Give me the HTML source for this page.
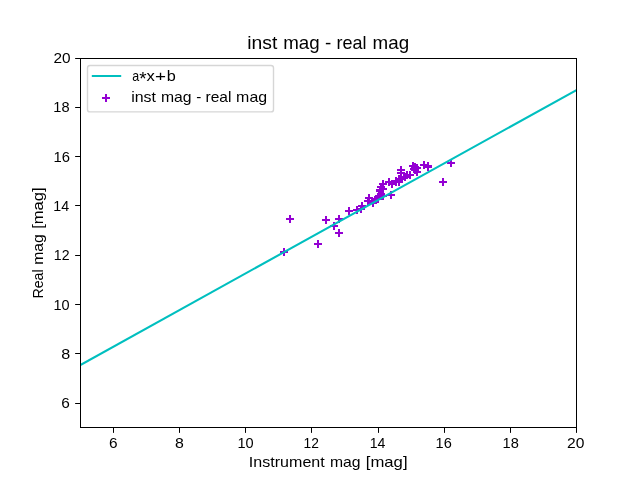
<!DOCTYPE html>
<html><head><meta charset="utf-8"><title>inst mag - real mag</title>
<style>
html,body{margin:0;padding:0;background:#fff;}
body{width:640px;height:480px;overflow:hidden;}
svg{display:block;will-change:transform;filter:opacity(1);}
text{font-family:"Liberation Sans",sans-serif;fill:#000;}
</style></head><body>
<svg width="640" height="480" viewBox="0 0 640 480">
<rect x="0" y="0" width="640" height="480" fill="#ffffff"/>
<defs><clipPath id="ax"><rect x="80" y="58" width="497" height="370"/></clipPath></defs>

<g fill="#9400d3" shape-rendering="crispEdges">
<path d="M280 251h8v2h-8zM283 248h2v8h-2z"/>
<path d="M286 218h8v2h-8zM289 215h2v8h-2z"/>
<path d="M314 243h8v2h-8zM317 240h2v8h-2z"/>
<path d="M322 219h8v2h-8zM325 216h2v8h-2z"/>
<path d="M330 225h8v2h-8zM333 222h2v8h-2z"/>
<path d="M335 218h8v2h-8zM338 215h2v8h-2z"/>
<path d="M335 232h8v2h-8zM338 229h2v8h-2z"/>
<path d="M345 210h8v2h-8zM348 207h2v8h-2z"/>
<path d="M353 209h8v2h-8zM356 206h2v8h-2z"/>
<path d="M357 208h8v2h-8zM360 205h2v8h-2z"/>
<path d="M358 205h8v2h-8zM361 202h2v8h-2z"/>
<path d="M365 197h8v2h-8zM368 194h2v8h-2z"/>
<path d="M364 200h8v2h-8zM367 197h2v8h-2z"/>
<path d="M369 202h8v2h-8zM372 199h2v8h-2z"/>
<path d="M371 199h8v2h-8zM374 196h2v8h-2z"/>
<path d="M377 186h8v2h-8zM380 183h2v8h-2z"/>
<path d="M379 183h8v2h-8zM382 180h2v8h-2z"/>
<path d="M379 188h8v2h-8zM382 185h2v8h-2z"/>
<path d="M376 189h8v2h-8zM379 186h2v8h-2z"/>
<path d="M376 190h8v2h-8zM379 187h2v8h-2z"/>
<path d="M385 181h8v2h-8zM388 178h2v8h-2z"/>
<path d="M388 183h8v2h-8zM391 180h2v8h-2z"/>
<path d="M392 180h8v2h-8zM395 177h2v8h-2z"/>
<path d="M395 178h8v2h-8zM398 175h2v8h-2z"/>
<path d="M395 180h8v2h-8zM398 177h2v8h-2z"/>
<path d="M387 194h8v2h-8zM390 191h2v8h-2z"/>
<path d="M397 169h8v2h-8zM400 166h2v8h-2z"/>
<path d="M397 172h8v2h-8zM400 169h2v8h-2z"/>
<path d="M403 174h8v2h-8zM406 171h2v8h-2z"/>
<path d="M406 174h8v2h-8zM409 171h2v8h-2z"/>
<path d="M401 176h8v2h-8zM404 173h2v8h-2z"/>
<path d="M409 165h8v2h-8zM412 162h2v8h-2z"/>
<path d="M410 168h8v2h-8zM413 165h2v8h-2z"/>
<path d="M411 166h8v2h-8zM414 163h2v8h-2z"/>
<path d="M413 167h8v2h-8zM416 164h2v8h-2z"/>
<path d="M413 171h8v2h-8zM416 168h2v8h-2z"/>
<path d="M420 164h8v2h-8zM423 161h2v8h-2z"/>
<path d="M424 165h8v2h-8zM427 162h2v8h-2z"/>
<path d="M447 162h8v2h-8zM450 159h2v8h-2z"/>
<path d="M439 181h8v2h-8zM442 178h2v8h-2z"/>
<path d="M374 198h8v2h-8zM377 195h2v8h-2z"/>
<path d="M375 195h8v2h-8zM378 192h2v8h-2z"/>
<path d="M377 193h8v2h-8zM380 190h2v8h-2z"/>
<path d="M379 195h8v2h-8zM382 192h2v8h-2z"/>
<path d="M372 198h8v2h-8zM375 195h2v8h-2z"/>
<path d="M392 181h8v2h-8zM395 178h2v8h-2z"/>
<path d="M395 181h8v2h-8zM398 178h2v8h-2z"/>
<path d="M396 178h8v2h-8zM399 175h2v8h-2z"/>
<path d="M411 169h8v2h-8zM414 166h2v8h-2z"/>
<path d="M424 166h8v2h-8zM427 163h2v8h-2z"/>
</g>
<g clip-path="url(#ax)"><line x1="80" y1="365.20" x2="576" y2="90.30" stroke="#00bfbf" stroke-width="2.08" stroke-linecap="square"/></g>
<g fill="#000" shape-rendering="crispEdges">
<rect x="80" y="58" width="497" height="1"/>
<rect x="80" y="427" width="497" height="1"/>
<rect x="80" y="58" width="1" height="370"/>
<rect x="576" y="58" width="1" height="370"/>
</g><g fill="#000">
<rect x="113" y="428" width="1" height="4.86"/>
<rect x="179" y="428" width="1" height="4.86"/>
<rect x="245" y="428" width="1" height="4.86"/>
<rect x="311" y="428" width="1" height="4.86"/>
<rect x="378" y="428" width="1" height="4.86"/>
<rect x="444" y="428" width="1" height="4.86"/>
<rect x="510" y="428" width="1" height="4.86"/>
<rect x="576" y="428" width="1" height="4.86"/>
<rect x="75.14" y="58" width="4.86" height="1"/>
<rect x="75.14" y="107" width="4.86" height="1"/>
<rect x="75.14" y="156" width="4.86" height="1"/>
<rect x="75.14" y="205" width="4.86" height="1"/>
<rect x="75.14" y="255" width="4.86" height="1"/>
<rect x="75.14" y="304" width="4.86" height="1"/>
<rect x="75.14" y="353" width="4.86" height="1"/>
<rect x="75.14" y="403" width="4.86" height="1"/>
</g>
<rect x="87.5" y="65.5" width="186" height="46.4" rx="2.5" ry="2.5" fill="#ffffff" fill-opacity="0.8" stroke="#cccccc" stroke-opacity="0.8" stroke-width="1.39"/>
<rect x="91.8" y="75" width="29.4" height="2" fill="#00bfbf"/>
<path fill="#9400d3" shape-rendering="crispEdges" d="M102 97h8v2h-8zM105 94h2v8h-2z"/>
<text x="247.28" y="48.80" font-size="18.40" textLength="30.11" lengthAdjust="spacingAndGlyphs">inst</text>
<text x="283.18" y="48.80" font-size="18.40" textLength="36.46" lengthAdjust="spacingAndGlyphs">mag</text>
<text x="324.90" y="48.80" font-size="18.40" textLength="6.28" lengthAdjust="spacingAndGlyphs">-</text>
<text x="336.47" y="48.80" font-size="18.40" textLength="30.00" lengthAdjust="spacingAndGlyphs">real</text>
<text x="372.64" y="48.80" font-size="18.40" textLength="36.52" lengthAdjust="spacingAndGlyphs">mag</text>
<text x="132.37" y="80.80" font-size="14.40" textLength="6.94" lengthAdjust="spacingAndGlyphs">a</text>
<text x="146.43" y="80.80" font-size="14.40" textLength="8.32" lengthAdjust="spacingAndGlyphs">x</text>
<text x="155.08" y="80.80" font-size="14.40" textLength="11.04" lengthAdjust="spacingAndGlyphs">+</text>
<text x="166.70" y="80.80" font-size="14.40" textLength="9.05" lengthAdjust="spacingAndGlyphs">b</text>
<text x="139.18" y="85.00" font-size="18.00" textLength="7.31" lengthAdjust="spacingAndGlyphs">*</text>
<text x="131.17" y="102.20" font-size="14.40" textLength="24.80" lengthAdjust="spacingAndGlyphs">inst</text>
<text x="161.01" y="102.20" font-size="14.40" textLength="30.62" lengthAdjust="spacingAndGlyphs">mag</text>
<text x="196.26" y="102.20" font-size="14.40" textLength="5.07" lengthAdjust="spacingAndGlyphs">-</text>
<text x="205.46" y="102.20" font-size="14.40" textLength="25.93" lengthAdjust="spacingAndGlyphs">real</text>
<text x="236.14" y="102.20" font-size="14.40" textLength="30.97" lengthAdjust="spacingAndGlyphs">mag</text>
<text x="248.89" y="466.90" font-size="14.40" textLength="75.85" lengthAdjust="spacingAndGlyphs">Instrument</text>
<text x="330.01" y="466.90" font-size="14.40" textLength="30.62" lengthAdjust="spacingAndGlyphs">mag</text>
<text x="365.79" y="466.90" font-size="14.40" textLength="41.77" lengthAdjust="spacingAndGlyphs">[mag]</text>
<text transform="translate(42.50,298.61) rotate(-90)" font-size="14.40" textLength="29.27" lengthAdjust="spacingAndGlyphs">Real</text>
<text transform="translate(42.50,264.83) rotate(-90)" font-size="14.40" textLength="30.51" lengthAdjust="spacingAndGlyphs">mag</text>
<text transform="translate(42.50,228.80) rotate(-90)" font-size="14.40" textLength="41.46" lengthAdjust="spacingAndGlyphs">[mag]</text>
<text x="109.12" y="448.00" font-size="14.40" textLength="8.57" lengthAdjust="spacingAndGlyphs">6</text>
<text x="174.99" y="448.00" font-size="14.40" textLength="8.86" lengthAdjust="spacingAndGlyphs">8</text>
<text x="237.53" y="448.00" font-size="14.40" textLength="16.21" lengthAdjust="spacingAndGlyphs">10</text>
<text x="303.58" y="448.00" font-size="14.40" textLength="15.37" lengthAdjust="spacingAndGlyphs">12</text>
<text x="369.69" y="448.00" font-size="14.40" textLength="15.71" lengthAdjust="spacingAndGlyphs">14</text>
<text x="435.63" y="448.00" font-size="14.40" textLength="16.18" lengthAdjust="spacingAndGlyphs">16</text>
<text x="502.50" y="448.00" font-size="14.40" textLength="16.26" lengthAdjust="spacingAndGlyphs">18</text>
<text x="567.02" y="448.00" font-size="14.40" textLength="17.37" lengthAdjust="spacingAndGlyphs">20</text>
<text x="53.43" y="62.90" font-size="14.40" textLength="17.13" lengthAdjust="spacingAndGlyphs">20</text>
<text x="53.39" y="112.20" font-size="14.40" textLength="16.27" lengthAdjust="spacingAndGlyphs">18</text>
<text x="53.45" y="161.50" font-size="14.40" textLength="16.45" lengthAdjust="spacingAndGlyphs">16</text>
<text x="53.33" y="210.70" font-size="14.40" textLength="15.86" lengthAdjust="spacingAndGlyphs">14</text>
<text x="53.84" y="260.40" font-size="14.40" textLength="15.70" lengthAdjust="spacingAndGlyphs">12</text>
<text x="53.47" y="310.10" font-size="14.40" textLength="16.15" lengthAdjust="spacingAndGlyphs">10</text>
<text x="61.16" y="358.60" font-size="14.40" textLength="8.99" lengthAdjust="spacingAndGlyphs">8</text>
<text x="61.30" y="407.90" font-size="14.40" textLength="8.57" lengthAdjust="spacingAndGlyphs">6</text>
</svg></body></html>
